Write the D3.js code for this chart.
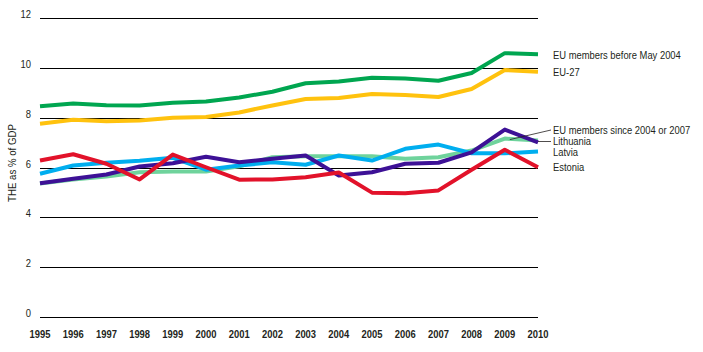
<!DOCTYPE html>
<html>
<head>
<meta charset="utf-8">
<script src="https://cdn.jsdelivr.net/npm/d3@7"></script>
<style>
  body { margin: 0; background: #fff; }
  text { font-family: "Liberation Sans Narrow", "Arial Narrow", "Liberation Sans", sans-serif; fill: #231f20; }
</style>
</head>
<body>
<div id="chart"></div>
<script>
// data
var years = [1995, 1996, 1997, 1998, 1999, 2000, 2001, 2002, 2003, 2004, 2005, 2006, 2007, 2008, 2009, 2010];
var yTicks = [0, 2, 4, 6, 8, 10, 12];

var euBefore2004 = [8.46, 8.57, 8.5, 8.49, 8.6, 8.65, 8.81, 9.04, 9.38, 9.45, 9.6, 9.57, 9.48, 9.79, 10.59, 10.55];
var eu27 = [7.76, 7.92, 7.86, 7.89, 8.0, 8.03, 8.21, 8.49, 8.75, 8.79, 8.95, 8.91, 8.83, 9.15, 9.91, 9.84];
var euSince2004 = [5.36, 5.52, 5.64, 5.81, 5.84, 5.84, 6.05, 6.41, 6.45, 6.45, 6.45, 6.35, 6.41, 6.68, 7.16, 7.08];
var lithuania = [5.37, 5.55, 5.72, 6.04, 6.17, 6.43, 6.21, 6.35, 6.48, 5.68, 5.81, 6.15, 6.19, 6.61, 7.52, 7.01];
var latvia = [5.75, 6.08, 6.19, 6.27, 6.39, 5.91, 6.08, 6.21, 6.11, 6.48, 6.28, 6.75, 6.92, 6.57, 6.57, 6.64];
var estonia = [6.28, 6.53, 6.15, 5.52, 6.52, 6.01, 5.51, 5.52, 5.61, 5.8, 4.99, 4.97, 5.08, 5.91, 6.71, 6.01];

var seriesNames = ["EU members before May 2004", "EU-27", "EU members since 2004 or 2007", "Lithuania", "Latvia", "Estonia"];
var seriesValues = [euBefore2004, eu27, euSince2004, lithuania, latvia, estonia];
var seriesColors = ["#00a650", "#ffc20e", "#6fd39c", "#3d1196", "#00aeef", "#e2122a"];

var width = 703, height = 352;

var svg = d3.select("#chart")
    .append("svg")
    .attr("width", width)
    .attr("height", height);

var x = d3.scaleLinear()
    .domain([1995, 2010])
    .range([40, 538]);

var y = d3.scaleLinear()
    .domain([0, 12])
    .range([317, 18]);

// no narrow font installed, so squash text horizontally
function place(px, py, sq) {
    return "translate(" + px + "," + py + ") scale(" + sq + ",1)";
}

// grid lines
svg.append("g")
    .selectAll("line")
    .data(yTicks)
    .enter()
    .append("line")
    .attr("x1", x(1995))
    .attr("x2", x(2010))
    .attr("y1", d => Math.round(y(d)) + 0.5)
    .attr("y2", d => Math.round(y(d)) + 0.5)
    .attr("stroke", "#000")
    .attr("stroke-width", 1);

// y tick labels
svg.append("g")
    .selectAll("text")
    .data(yTicks)
    .enter()
    .append("text")
    .attr("transform", d => place(31, y(d), 0.82))
    .attr("text-anchor", "end")
    .style("font-size", "11.5px")
    .text(d => d);

// x tick labels
svg.append("g")
    .selectAll("text")
    .data(years)
    .enter()
    .append("text")
    .attr("transform", d => place(x(d), 338, 0.84))
    .attr("text-anchor", "middle")
    .style("font-size", "11.2px")
    .style("font-weight", "bold")
    .text(d => d);

// y axis title
svg.append("text")
    .attr("transform", "translate(16,163) rotate(-90) scale(0.84,1)")
    .attr("text-anchor", "middle")
    .style("font-size", "11.5px")
    .text("THE as % of GDP");

var line = d3.line()
    .x((d, i) => x(years[i]))
    .y(d => y(d));

// draw order: new members first so the others sit on top
var order = [2, 0, 1, 4, 3, 5];
svg.append("g")
    .selectAll("path")
    .data(order)
    .enter()
    .append("path")
    .attr("d", i => line(seriesValues[i]))
    .attr("fill", "none")
    .attr("stroke", i => seriesColors[i])
    .attr("stroke-width", 4)
    .attr("stroke-linejoin", "round");

// legend labels at line ends
var labelY = [55, 72, 130, 141, 152, 167];
svg.append("g")
    .selectAll("text")
    .data(seriesNames)
    .enter()
    .append("text")
    .attr("transform", (d, i) => place(553, labelY[i], 0.87))
    .attr("dy", "0.35em")
    .style("font-size", "10.8px")
    .text(d => d);

// leader lines
svg.append("line")
    .attr("x1", x(2009) + 5).attr("y1", y(euSince2004[14]) + 1)
    .attr("x2", 551).attr("y2", 130)
    .attr("stroke", "#231f20").attr("stroke-width", 0.8);
svg.append("line")
    .attr("x1", x(2010)).attr("y1", 141.5)
    .attr("x2", 551).attr("y2", 141.5)
    .attr("stroke", "#231f20").attr("stroke-width", 0.8);
</script>
</body>
</html>
